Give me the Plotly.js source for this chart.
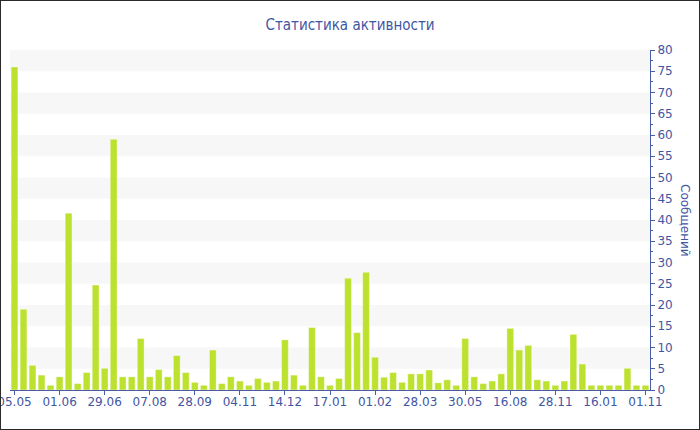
<!DOCTYPE html>
<html>
<head>
<meta charset="utf-8">
<script src="https://cdn.plot.ly/plotly-3.0.1.min.js"></script>
<style>
  html, body { margin: 0; padding: 0; background: #fff; }
  #frame { width: 700px; height: 430px; box-sizing: border-box; border: 1px solid #2a2a2a; overflow: hidden; }
  #chart { width: 698px; height: 428px; }
</style>
</head>
<body>
<div id="frame"><div id="chart"></div></div>
<script>
// Tick labels shown every 5th period
const tickLabels = ['05.05', '01.06', '29.06', '07.08', '28.09', '04.11', '14.12', '17.01',
                    '01.02', '28.03', '30.05', '16.08', '28.11', '16.01', '01.11'];
const tickEvery = 5;

// Messages per period
const messages = [
  76, 19, 5.8, 3.5, 1.1, 3.1, 41.6, 1.5, 4.1, 24.7,
  5.1, 59, 3.1, 3.1, 12.1, 3.1, 4.8, 3.1, 8.1, 4.1,
  1.8, 1.1, 9.4, 1.5, 3.1, 2.1, 1.1, 2.7, 1.8, 2.1,
  11.8, 3.5, 1.1, 14.7, 3.1, 1.1, 2.7, 26.3, 13.5, 27.7,
  7.7, 3.0, 4.1, 1.8, 3.8, 3.8, 4.7, 1.7, 2.4, 1.1,
  12.1, 3.1, 1.5, 2.1, 3.8, 14.5, 9.4, 10.5, 2.4, 2.1,
  1.1, 2.1, 13.1, 6.1, 1.1, 1.1, 1.1, 1.1, 5.1, 1.1,
  1.1
];

const titleText = 'Статистика активности';
const yTitleText = 'Сообщений';

const blue = '#3f56a3';
const axisBlue = '#4a5ea8';
const font = 'Verdana, "DejaVu Sans", sans-serif';
const titleFont = '"DejaVu Sans Condensed", Tahoma, "DejaVu Sans", sans-serif';

const xIdx = messages.map((_, i) => i);
const tickvals = tickLabels.map((_, k) => k * tickEvery);

// alternating horizontal bands
const shapes = [];
for (let y = 5; y < 80; y += 10) {
  shapes.push({type: 'rect', xref: 'paper', yref: 'y', x0: 0, x1: 1, y0: y, y1: y + 5,
               fillcolor: '#f7f7f7', line: {width: 0}, layer: 'below'});
}

const trace = {
  type: 'bar',
  x: xIdx,
  y: messages,
  marker: {color: '#bde12f', line: {color: 'rgba(255,255,255,0.35)', width: 1}},
  hoverinfo: 'y'
};

const layout = {
  width: 698, height: 428,
  margin: {l: 9, r: 49, t: 49, b: 39},
  paper_bgcolor: '#ffffff',
  plot_bgcolor: 'rgba(0,0,0,0)',
  font: {family: font, size: 12, color: blue},
  title: {text: titleText, font: {family: titleFont, size: 15, color: blue}, x: 0.5, xanchor: 'center', y: 0.944, yanchor: 'middle', yref: 'container'},
  bargap: 0.25,
  showlegend: false,
  shapes: shapes,
  xaxis: {
    type: 'linear', range: [-0.5, 70.5], fixedrange: true,
    tickmode: 'array', tickvals: tickvals, ticktext: tickLabels,
    ticks: 'outside', ticklen: 4, tickcolor: axisBlue, tickwidth: 1,
    ticklabeloverflow: 'allow', ticklabelstandoff: -3,
    showline: true, linecolor: axisBlue, linewidth: 1,
    showgrid: false, zeroline: false,
    tickfont: {family: font, size: 12, color: blue}
  },
  yaxis: {
    side: 'right', range: [0, 80], dtick: 5, tick0: 0, fixedrange: true,
    ticks: 'outside', ticklen: 4, tickcolor: axisBlue, tickwidth: 1,
    minor: {dtick: 2.5, ticks: 'outside', ticklen: 2, tickcolor: axisBlue, showgrid: false},
    showline: true, linecolor: axisBlue, linewidth: 1,
    showgrid: false, zeroline: false,
    tickfont: {family: font, size: 12, color: blue}
  },
  annotations: [{
    text: yTitleText, textangle: 90, xref: 'paper', yref: 'paper', x: 1, y: 0.5,
    xanchor: 'center', yanchor: 'middle', xshift: 35, showarrow: false,
    font: {family: font, size: 12, color: blue}
  }]
};

Plotly.newPlot('chart', [trace], layout, {displayModeBar: false, staticPlot: true});
</script>
</body>
</html>
